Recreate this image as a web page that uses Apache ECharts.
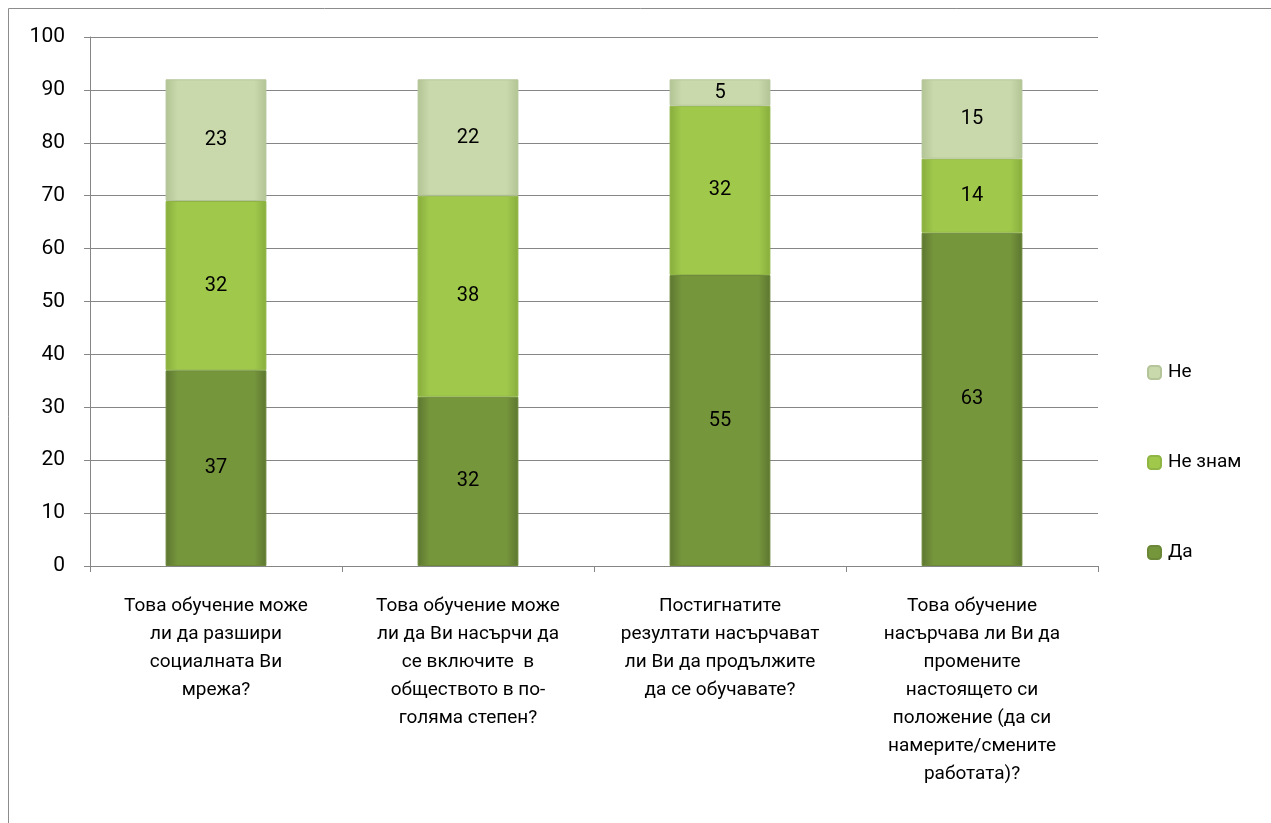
<!DOCTYPE html>
<html>
<head>
<meta charset="utf-8">
<script src="https://cdn.jsdelivr.net/npm/echarts@6/dist/echarts.min.js"></script>
<style>
  html, body { margin: 0; padding: 0; background: #fff; }
  #container { width: 1271px; height: 823px; }
</style>
</head>
<body>
<div id="container"></div>
<script>
let categories = [
  "Това обучение може\nли да разшири\nсоциалната Ви\nмрежа?",
  "Това обучение може\nли да Ви насърчи да\nсе включите  в\nобществото в по-\nголяма степен?",
  "Постигнатите\nрезултати насърчават\nли Ви да продължите\nда се обучавате?",
  "Това обучение\nнасърчава ли Ви да\nпромените\nнастоящето си\nположение (да си\nнамерите/смените\nработата)?"
];
let da = [37, 32, 55, 63];
let neZnam = [32, 38, 32, 14];
let ne = [23, 22, 5, 15];
let yTicks = [0, 10, 20, 30, 40, 50, 60, 70, 80, 90, 100];

let font = "Roboto, 'Noto Sans', sans-serif";

function grad(edge, mid) {
  return new echarts.graphic.LinearGradient(0, 0, 1, 0, [
    { offset: 0, color: edge },
    { offset: 0.12, color: mid },
    { offset: 0.88, color: mid },
    { offset: 1, color: edge }
  ]);
}

let dom = document.getElementById("container");
let myChart = echarts.init(dom, null, { renderer: "canvas" });

let labelStyle = {
  show: true,
  position: "inside",
  color: "#000",
  fontSize: 20,
  fontFamily: font
};

let option = {
  animation: false,
  textStyle: { fontFamily: font },
  graphic: [
    {
      type: "rect",
      shape: { x: 8.5, y: 8.5, width: 1400, height: 1000 },
      style: { fill: "none", stroke: "#8c8c8c", lineWidth: 1 },
      silent: true
    }
  ],
  grid: { left: 90, right: 173, top: 37, bottom: 257 },
  legend: {
    orient: "vertical",
    left: 1147,
    top: 363,
    padding: 0,
    itemGap: 71,
    itemWidth: 13,
    itemHeight: 13,
    data: ["Не", "Не знам", "Да"],
    textStyle: { fontSize: 19, color: "#000", fontFamily: font, padding: [0, 0, 0, 2] }
  },
  xAxis: {
    type: "category",
    data: categories,
    axisLine: { lineStyle: { color: "#868686" } },
    axisTick: { show: true, length: 6, lineStyle: { color: "#868686" } },
    axisLabel: {
      interval: 0,
      color: "#000",
      fontSize: 19,
      lineHeight: 28,
      margin: 26,
      fontFamily: font
    }
  },
  yAxis: {
    type: "value",
    min: 0,
    max: 100,
    interval: 10,
    axisLine: { show: true, lineStyle: { color: "#868686" } },
    axisTick: { show: true, length: 6, lineStyle: { color: "#868686" } },
    splitLine: { lineStyle: { color: "#868686", width: 1 } },
    axisLabel: {
      color: "#000",
      fontSize: 21,
      margin: 25,
      fontFamily: font,
      formatter: function (v) { return yTicks.indexOf(v) >= 0 ? String(v) : ""; }
    }
  },
  series: [
    {
      name: "Да",
      type: "bar",
      stack: "total",
      barWidth: "40%",
      data: da,
      label: labelStyle,
      itemStyle: { color: grad("#5c7630", "#76963c"), borderColor: "#6a8838", borderWidth: 1 }
    },
    {
      name: "Не знам",
      type: "bar",
      stack: "total",
      data: neZnam,
      label: labelStyle,
      itemStyle: { color: grad("#88ad3c", "#a0c94c"), borderColor: "#8fb544", borderWidth: 1 }
    },
    {
      name: "Не",
      type: "bar",
      stack: "total",
      data: ne,
      label: labelStyle,
      itemStyle: { color: grad("#b2c394", "#c9d9ab"), borderColor: "#b5c59a", borderWidth: 1 }
    }
  ]
};

if (option && typeof option === "object") {
  myChart.setOption(option);
}
window.addEventListener("resize", myChart.resize);
</script>
</body>
</html>
